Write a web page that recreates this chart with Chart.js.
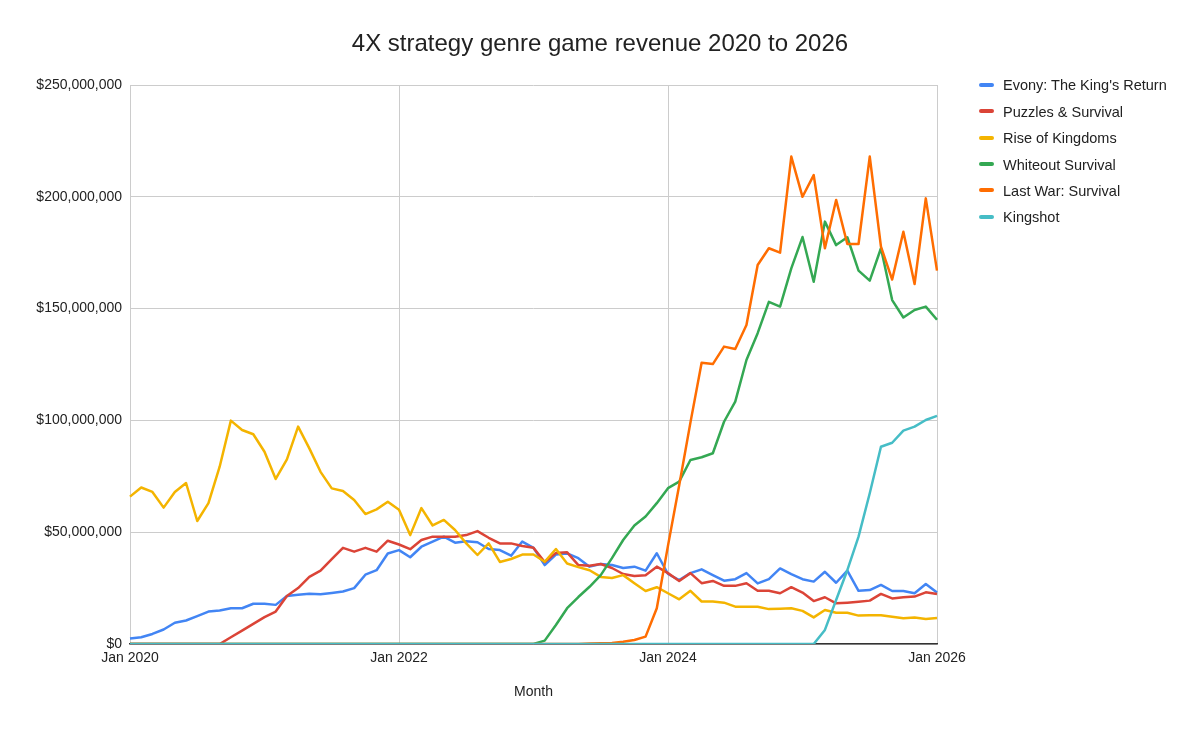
<!DOCTYPE html>
<html>
<head>
<meta charset="utf-8">
<script src="https://cdn.jsdelivr.net/npm/chart.js@4.4.1/dist/chart.umd.min.js"></script>
<style>
  html, body { margin: 0; padding: 0; background: #fff; }
  #wrap { position: relative; width: 1200px; height: 732px; font-family: 'Liberation Sans', Arial, sans-serif; }
  #chart-title { position: absolute; left: 0; top: 31px; width: 1200px; text-align: center; font-size: 24px; line-height: 24px; color: #222; }
  #legend { position: absolute; left: 979px; top: 72px; }
  .legend-item { height: 26.45px; display: flex; align-items: center; font-size: 14.5px; color: #222; white-space: nowrap; }
  .legend-swatch { width: 15px; height: 4px; border-radius: 2px; margin-right: 9px; margin-top: -1px; }
</style>
</head>
<body>
<div id="wrap">
  <canvas id="c"></canvas>
  <div id="chart-title">4X strategy genre game revenue 2020 to 2026</div>
  <div id="legend"></div>
</div>
<script>
// monthly revenue, millions of USD, Jan 2020 .. Jan 2026
const months = [];
for (let y = 2020; y <= 2026; y++) {
  for (let m = 0; m < 12; m++) {
    if (y === 2026 && m > 0) break;
    months.push(['Jan','Feb','Mar','Apr','May','Jun','Jul','Aug','Sep','Oct','Nov','Dec'][m] + ' ' + y);
  }
}

const evony = [
  2.5, 3, 4.5, 6.5, 9.5, 10.5, 12.5, 14.5, 15, 16, 16, 18,
  18, 17.5, 21.5, 22, 22.5, 22.2, 22.8, 23.5, 25, 31, 33, 40.5,
  42, 38.8, 43.5, 45.8, 48, 45.3, 46, 45.5, 42.5, 42, 39.5, 45.8,
  43, 35.3, 40, 40.5, 38.4, 34.6, 35.8, 35.3, 34, 34.6, 32.8, 40.6,
  31.3, 28.6, 31.7, 33.4, 30.8, 28.3, 29, 31.7, 27.1, 29, 33.8, 31.3,
  29, 27.9, 32.3, 27.4, 32.8, 23.8, 24.1, 26.4, 23.7, 23.7, 22.7, 26.8,
  23
];
const puzzles = [
  0, 0, 0, 0, 0, 0, 0, 0, 0, 3, 6, 9,
  12, 14.5, 21.5, 25, 30, 32.8, 38, 43, 41.3, 43, 41.3, 46.2,
  44.5, 42.4, 46.5, 48, 48, 48, 48.7, 50.5, 47.5, 45, 45, 43.8,
  43, 36.7, 40.7, 41, 35.3, 35, 35.8, 34, 31.3, 30.4, 30.8, 34.6,
  31.7, 28.2, 31.7, 27.2, 28.2, 26, 26, 27.2, 23.8, 23.8, 22.7, 25.4,
  23, 19.2, 20.9, 18.2, 18.5, 18.9, 19.4, 22.4, 20.4, 20.9, 21.2, 23.1,
  22.4
];
const riseOfKingdoms = [
  65.9, 70, 68, 61, 68, 72, 55, 63, 79.3, 99.9, 95.7, 93.8,
  86, 73.8, 82.6, 97.2, 87.5, 77, 69.6, 68.4, 64.4, 58.1, 60.2, 63.6,
  60, 48.7, 60.8, 53, 55.5, 51, 45, 39.8, 45, 36.7, 38, 40,
  40, 36.8, 42.5, 36, 34.4, 33, 30, 29.5, 30.8, 27.2, 23.7, 25.4,
  22.7, 20, 23.8, 19, 19, 18.5, 16.7, 16.7, 16.7, 15.6, 15.8, 16,
  14.8, 11.9, 15.2, 14, 14, 12.7, 12.9, 12.9, 12.2, 11.5, 11.8, 11.2,
  11.6
];
const whiteout = [
  0, 0, 0, 0, 0, 0, 0, 0, 0, 0, 0, 0,
  0, 0, 0, 0, 0, 0, 0, 0, 0, 0, 0, 0,
  0, 0, 0, 0, 0, 0, 0, 0, 0, 0, 0, 0,
  0, 1.5, 8.5, 16, 21, 25.6, 30.8, 38.4, 46.5, 53, 57, 63,
  69.7, 72.6, 82.3, 83.5, 85.3, 99.4, 108.4, 127, 139, 153, 150.9, 168,
  182, 162, 188.9, 178.4, 181.9, 167, 162.5, 177, 153.8, 146, 149.4, 150.9,
  145
];
const lastWar = [
  0, 0, 0, 0, 0, 0, 0, 0, 0, 0, 0, 0,
  0, 0, 0, 0, 0, 0, 0, 0, 0, 0, 0, 0,
  0, 0, 0, 0, 0, 0, 0, 0, 0, 0, 0, 0,
  0, 0, 0, 0, 0, 0.2, 0.3, 0.5, 1, 1.8, 3.3, 16,
  44, 71, 99, 125.8, 125.2, 133, 131.9, 142.7, 169.5, 177, 175, 218,
  200, 209.7, 177, 198.6, 178.9, 178.9, 218, 177.7, 163, 184.4, 161, 199.3,
  167
];
const kingshot = [
  0, 0, 0, 0, 0, 0, 0, 0, 0, 0, 0, 0,
  0, 0, 0, 0, 0, 0, 0, 0, 0, 0, 0, 0,
  0, 0, 0, 0, 0, 0, 0, 0, 0, 0, 0, 0,
  0, 0, 0, 0, 0, 0, 0, 0, 0, 0, 0, 0,
  0, 0, 0, 0, 0, 0, 0, 0, 0, 0, 0, 0,
  0, 0, 6.3, 19.7, 33, 48, 67.4, 88.2, 90, 95.4, 97.2, 100.2,
  102
];

const seriesNames = ['Evony: The King\'s Return', 'Puzzles & Survival', 'Rise of Kingdoms', 'Whiteout Survival', 'Last War: Survival', 'Kingshot'];
const seriesData = [evony, puzzles, riseOfKingdoms, whiteout, lastWar, kingshot];
const seriesColors = ['#4285f4', '#db4437', '#f4b400', '#34a853', '#ff6d01', '#46bdc6'];

const FONT = "'Liberation Sans', Arial, sans-serif";

const datasets = seriesNames.map((name, i) => ({
  label: name,
  data: seriesData[i],
  borderColor: seriesColors[i],
  backgroundColor: seriesColors[i],
  borderWidth: 2.5,
  pointRadius: 0,
  tension: 0,
  borderJoinStyle: 'round',
  order: seriesNames.length - i, // later series on top, like the original
}));

// html legend
const legend = document.getElementById('legend');
seriesNames.forEach((name, i) => {
  const item = document.createElement('div');
  item.className = 'legend-item';
  item.innerHTML = `<span class="legend-swatch" style="background:${seriesColors[i]}"></span><span></span>`;
  item.lastChild.textContent = name;
  legend.appendChild(item);
});

new Chart(document.getElementById('c'), {
  type: 'line',
  data: { labels: months, datasets },
  options: {
    responsive: true,
    maintainAspectRatio: false,
    animation: false,
    layout: { padding: { top: 85, right: 263, bottom: 0, left: 0 } },
    plugins: {
      legend: { display: false },
      tooltip: { enabled: true }
    },
    scales: {
      x: {
        afterFit: s => { s.height = 88; },
        ticks: {
          autoSkip: false,
          maxRotation: 0,
          padding: 6,
          color: '#222',
          font: { size: 14, family: FONT },
          callback: function (val, i) { return i % 24 === 0 ? this.getLabelForValue(val) : null; }
        },
        grid: { color: '#cccccc', drawTicks: false },
        border: { display: true, color: '#333333', width: 1.5 },
        title: { display: true, text: 'Month', color: '#222', font: { size: 14, family: FONT }, padding: { top: 31, bottom: 31 } }
      },
      y: {
        min: 0,
        max: 250,
        afterFit: s => { s.width = 130; },
        ticks: {
          stepSize: 50,
          padding: 8,
          color: '#222',
          font: { size: 14, family: FONT },
          callback: v => '$' + (v * 1e6).toLocaleString('en-US')
        },
        grid: { color: '#cccccc', drawTicks: false },
        border: { display: false }
      }
    }
  }
});
</script>
</body>
</html>
